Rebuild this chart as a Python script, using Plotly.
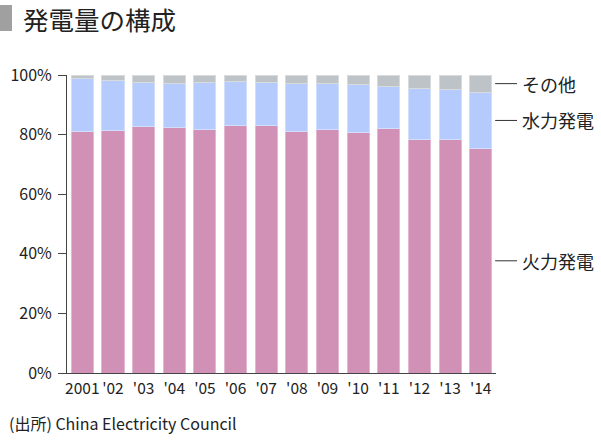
import plotly.graph_objects as go

years = ["2001", "'02", "'03", "'04", "'05", "'06", "'07", "'08", "'09", "'10", "'11", "'12", "'13", "'14"]
thermal = [81.1, 81.5, 82.8, 82.3, 81.7, 83.1, 83.0, 81.1, 81.7, 80.6, 82.2, 78.5, 78.4, 75.3]
hydro = [17.6, 16.7, 14.7, 15.0, 15.8, 14.6, 14.5, 16.2, 15.5, 16.1, 14.1, 17.1, 16.6, 18.9]
other = [round(100 - t - h, 1) for t, h in zip(thermal, hydro)]

series_names = ["火力発電", "水力発電", "その他"]
series_colors = ["#d190b5", "#b5cafd", "#bec3c7"]
edge_colors = ["#e2b7cf", "#d3defd", "#d8dbde"]
yticks = [0, 20, 40, 60, 80, 100]
ytick_labels = ["0%", "20%", "40%", "60%", "80%", "100%"]

FONT = "Noto Sans CJK JP"
TXT = "#222222"

fig = go.Figure()
for name, vals, col, ec in zip(series_names, [thermal, hydro, other], series_colors, edge_colors):
    fig.add_trace(go.Bar(x=years, y=vals, name=name, marker=dict(color=col, line=dict(color=ec, width=1)),
                         showlegend=False, hoverinfo="skip"))

fig.update_layout(
    barmode="stack",
    bargap=0.28,
    width=601, height=442,
    margin=dict(l=67, r=105, t=75, b=69, autoexpand=False),
    plot_bgcolor="white", paper_bgcolor="white",
    font=dict(family=FONT, size=15, color=TXT),
    xaxis=dict(showline=True, linecolor="#444", linewidth=1, ticks="", showgrid=False,
               tickangle=0, automargin=False, ticklabelstandoff=1,
               tickfont=dict(size=15.5, color=TXT)),
    yaxis=dict(range=[0, 100], tickvals=yticks, ticktext=ytick_labels, showline=True, linecolor="#444",
               linewidth=1, ticks="outside", ticklen=8, tickcolor="#444", showgrid=False, automargin=False,
               ticklabelstandoff=3, tickfont=dict(size=16, color=TXT), zeroline=False),
)

# title block
fig.add_shape(type="rect", xref="paper", yref="paper", x0=-67/429, x1=-55/429,
              y0=(442-69-5)/298, y1=(442-69-31)/298, fillcolor="#a0a0a0", line_width=0)
fig.add_annotation(text="発電量の構成", xref="paper", yref="paper", x=-46/429, y=(442-69-18)/298,
                   xanchor="left", yanchor="middle", showarrow=False, font=dict(size=25.5, color=TXT, family=FONT))

# right-side labels at last bar midpoints
last = len(years) - 1
mids = [thermal[last] / 2, thermal[last] + hydro[last] / 2, thermal[last] + hydro[last] + other[last] / 2]
for name, m in zip(series_names, mids):
    fig.add_shape(type="line", xref="paper", yref="y", x0=0.998, x1=1.049, y0=m, y1=m,
                  line=dict(color="#333", width=1))
    fig.add_annotation(text=name, xref="paper", yref="y", x=1.056, y=m, xanchor="left", yanchor="middle",
                       showarrow=False, font=dict(size=18, color=TXT, family=FONT))

fig.add_annotation(text="(出所) China Electricity Council", xref="paper", yref="paper",
                   x=-60/429, y=-(423-373)/298, xanchor="left", yanchor="middle", showarrow=False,
                   font=dict(size=16, color=TXT, family=FONT))

fig.write_html("out.html", config={"displayModeBar": False},
               post_script="document.body.style.margin='0';")
